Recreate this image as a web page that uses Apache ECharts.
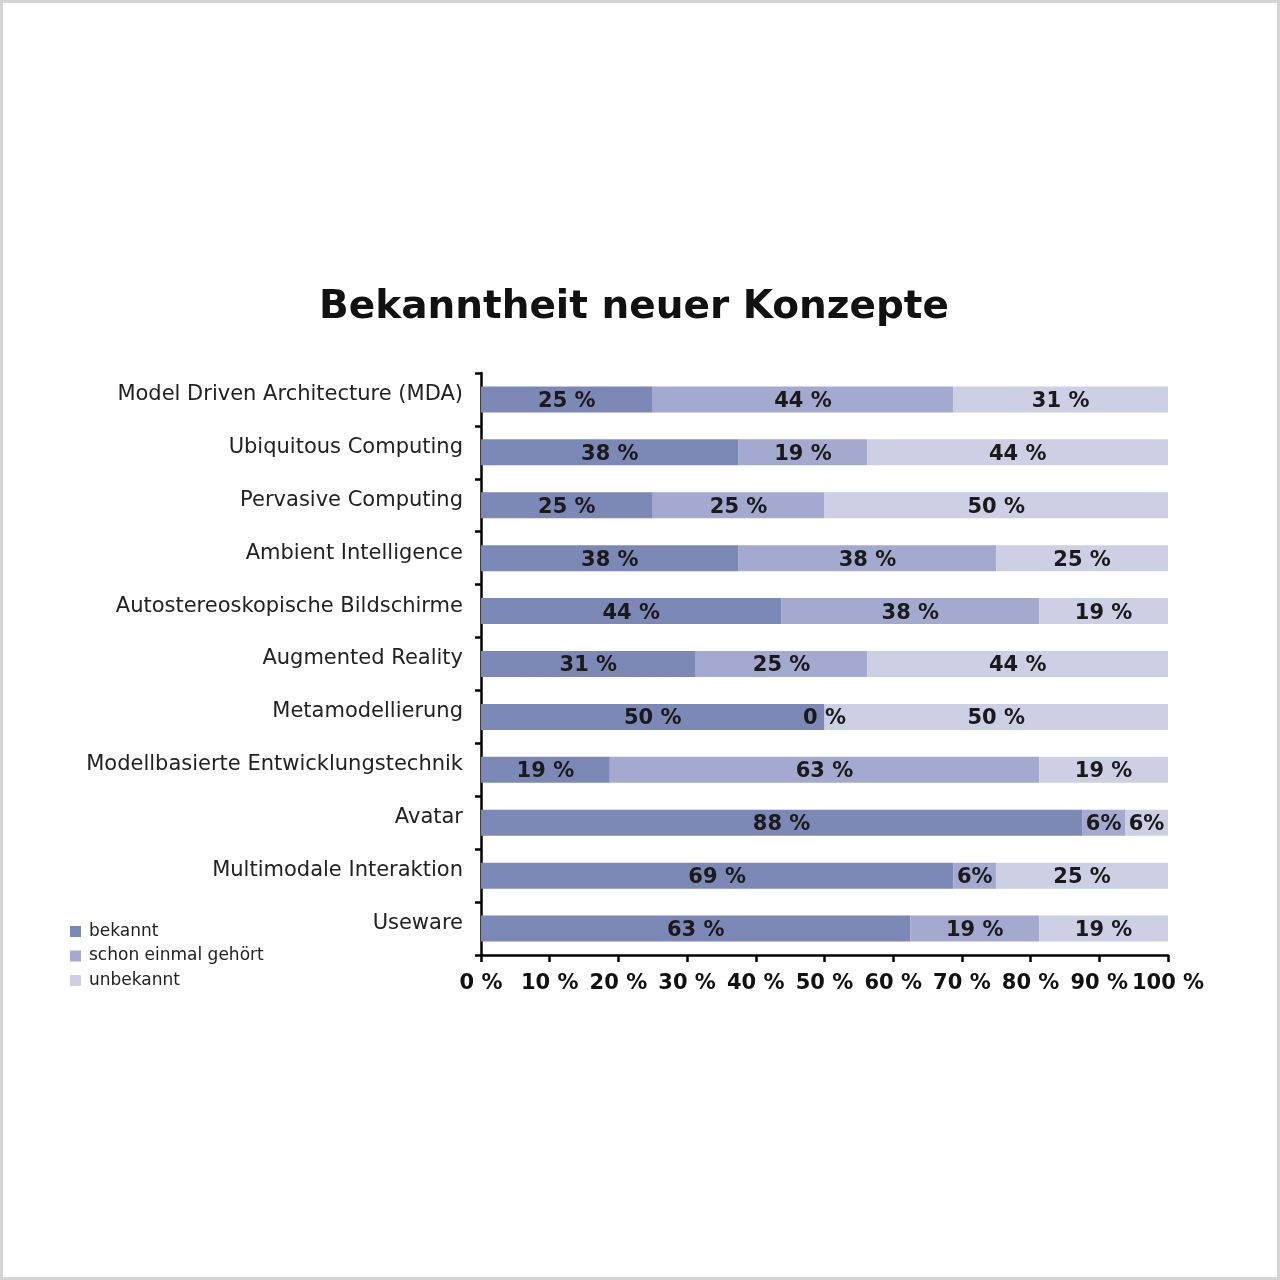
<!DOCTYPE html>
<html><head><meta charset="utf-8">
<script src="https://cdn.jsdelivr.net/npm/echarts@6/dist/echarts.min.js"></script>
<style>html,body{margin:0;padding:0;background:#fff}#c{width:1280px;height:1280px;box-sizing:border-box;border:3px solid #d4d4d4}</style>
</head><body><div id="c"></div>
<script>
const categories = ["Model Driven Architecture (MDA)","Ubiquitous Computing","Pervasive Computing","Ambient Intelligence","Autostereoskopische Bildschirme","Augmented Reality","Metamodellierung","Modellbasierte Entwicklungstechnik","Avatar","Multimodale Interaktion","Useware"];
const bekannt = [25,37.5,25,37.5,43.75,31.25,50,18.75,87.5,68.75,62.5];
const schon = [43.75,18.75,25,37.5,37.5,25,0,62.5,6.25,6.25,18.75];
const unbekannt = [31.25,43.75,50,25,18.75,43.75,50,18.75,6.25,25,18.75];
const seriesNames = ["bekannt","schon einmal gehört","unbekannt"];
const colors = ["#7c88b6","#a3a9cf","#cdd0e5"];
const xTicks = [0,10,20,30,40,50,60,70,80,90,100];

const font = "'DejaVu Sans', 'Open Sans', sans-serif";
const chart = echarts.init(document.getElementById('c'));
function fmt(p){const r=Math.round(p.value);return r===6? r+'%' : r+' %';}
const mk = (name,data,i)=>({
  name, type:'bar', stack:'s', data, barWidth:26,
  itemStyle:{color:colors[i]},
  label:{show:true,position:'inside',formatter:fmt,color:'#1a1a1a',fontFamily:font,fontWeight:'bold',fontSize:21,offset:[0,2]},
  emphasis:{disabled:true}
});
chart.setOption({
  animation:false,
  title:{text:'Bekanntheit neuer Konzepte',left:626,textAlign:'center',top:280,textStyle:{fontFamily:font,fontWeight:'bold',fontSize:39,color:'#111'}},
  legend:{orient:'vertical',left:62,top:915,itemWidth:11,itemHeight:11,itemGap:7.5,icon:'rect',
    textStyle:{fontFamily:font,fontSize:17,color:'#222',padding:[0,0,0,3]},data:seriesNames},
  grid:{left:478,right:109,top:370,bottom:322,containLabel:false},
  xAxis:{type:'value',min:0,max:100,interval:10,
    axisLine:{show:true,lineStyle:{color:'#000',width:2.5}},
    axisTick:{show:true,length:7,lineStyle:{color:'#000',width:2.5}},
    splitLine:{show:false},
    axisLabel:{formatter:v=>v+' %',fontFamily:font,fontWeight:'bold',fontSize:21,color:'#111',margin:18}},
  yAxis:{type:'category',inverse:true,data:categories,
    axisLine:{show:true,lineStyle:{color:'#000',width:2.5}},
    axisTick:{show:true,length:6,lineStyle:{color:'#000',width:2.5}},
    axisLabel:{fontFamily:font,fontSize:21,color:'#222',margin:18,verticalAlign:'bottom',lineHeight:10}},
  series:[mk(seriesNames[0],bekannt,0),mk(seriesNames[1],schon,1),mk(seriesNames[2],unbekannt,2)]
});
</script></body></html>
